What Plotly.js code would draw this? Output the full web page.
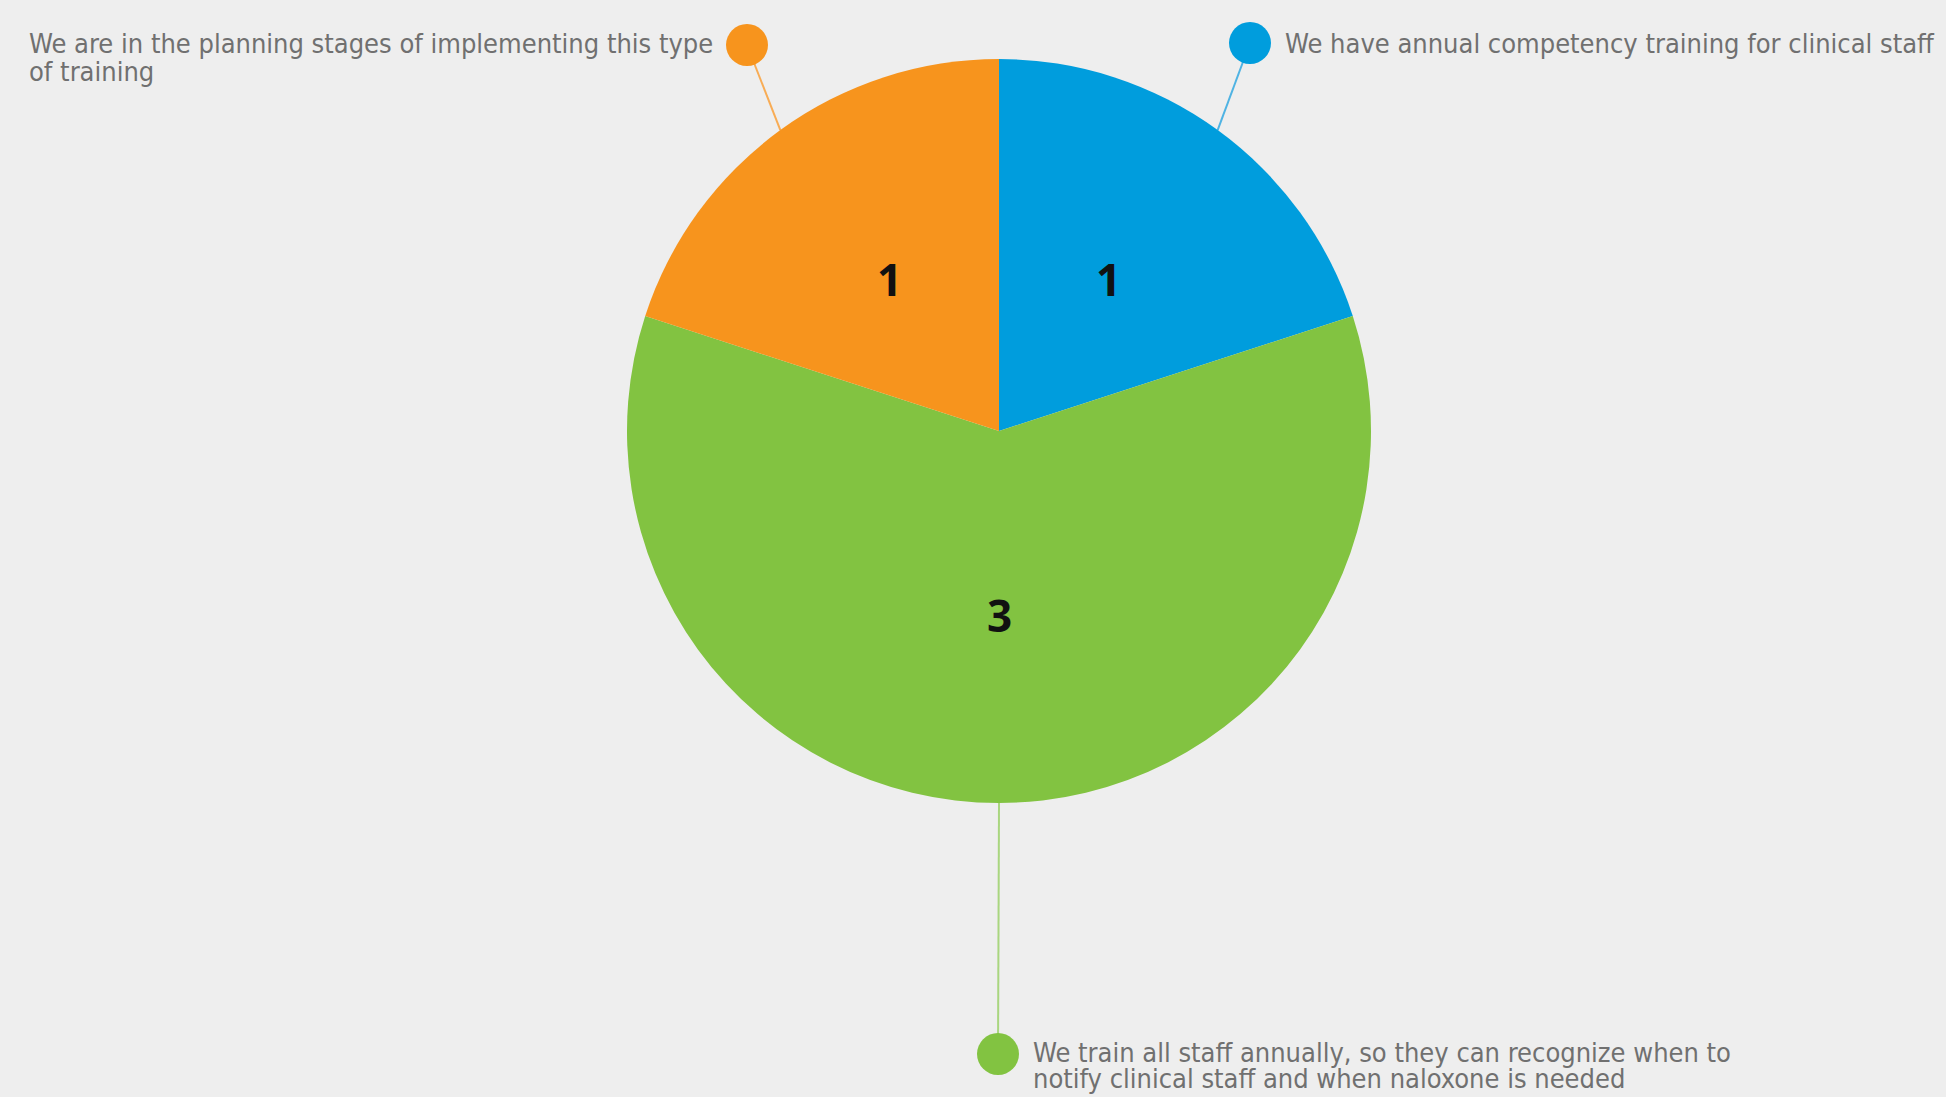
<!DOCTYPE html>
<html>
<head>
<meta charset="utf-8">
<script src="https://cdn.plot.ly/plotly-3.0.1.min.js"></script>
<style>html,body{margin:0;padding:0;background:#eeeeee;}#chart{width:1946px;height:1097px;}</style>
</head>
<body>
<div id="chart"></div>
<script>
// ---- data ----
const categories = [
  "We have annual competency training for clinical staff",
  "We train all staff annually, so they can recognize when to notify clinical staff and when naloxone is needed",
  "We are in the planning stages of implementing this type of training"
];
const labelLines = [
  ["We have annual competency training for clinical staff"],
  ["We train all staff annually, so they can recognize when to", "notify clinical staff and when naloxone is needed"],
  ["We are in the planning stages of implementing this type", "of training"]
];
const values = [1, 3, 1];
const sliceColors = ["#009ddd", "#82c341", "#f7941d"];
const lineColors = ["#4fb3e3", "#a9d67f", "#f8ac55"];

// ---- layout / style ----
const W = 1946, H = 1097;
const cx = 999, cy = 431, R = 372;
const dotPos = [[1250, 43], [998, 1054], [747, 45]];
const labelStart = [[1283, 43], [1031, 1052], [27, 43]];
const lineGap = [0, 26, 28];
const labelFont = {family: "DejaVu Sans Condensed, DejaVu Sans, sans-serif", size: 27, color: "#707070"};

const total = values.reduce((a, b) => a + b, 0);
let acc = 0;
const mids = values.map(v => { const m = (acc + v / 2) / total * 2 * Math.PI; acc += v; return m; });

const traces = [];
const annotations = [];
values.forEach((v, i) => {
  const a = mids[i];
  const rx = cx + R * Math.sin(a), ry = cy - R * Math.cos(a);
  traces.push({
    type: "scatter", mode: "lines", x: [rx, dotPos[i][0]], y: [ry, dotPos[i][1]],
    line: {color: lineColors[i], width: 2}, hoverinfo: "skip", showlegend: false
  });
  traces.push({
    type: "scatter", mode: "markers", x: [dotPos[i][0]], y: [dotPos[i][1]],
    marker: {color: sliceColors[i], size: 42, line: {width: 0}}, hoverinfo: "skip", showlegend: false
  });
  labelLines[i].forEach((txt, k) => {
    annotations.push({
      xref: "x", yref: "y", x: labelStart[i][0], y: labelStart[i][1] + k * lineGap[i],
      text: txt, showarrow: false, xanchor: "left", yanchor: "middle", align: "left", font: labelFont
    });
  });
  annotations.push({
    xref: "x", yref: "y", x: cx + 0.5 * R * Math.sin(a), y: cy - 0.5 * R * Math.cos(a) - 2,
    text: "<b>" + v + "</b>", showarrow: false, xanchor: "center", yanchor: "middle",
    font: {family: "Open Sans, sans-serif", size: 44, color: "#111111"}
  });
});

traces.unshift({
  type: "pie", labels: categories, values: values, sort: false, direction: "clockwise", rotation: 0,
  marker: {colors: sliceColors, line: {width: 0}}, textinfo: "none", hoverinfo: "label+value",
  showlegend: false,
  domain: {x: [(cx - R) / W, (cx + R) / W], y: [1 - (cy + R) / H, 1 - (cy - R) / H]}
});

const layout = {
  width: W, height: H, margin: {l: 0, r: 0, t: 0, b: 0},
  paper_bgcolor: "#eeeeee", plot_bgcolor: "rgba(0,0,0,0)",
  xaxis: {range: [0, W], visible: false, fixedrange: true},
  yaxis: {range: [H, 0], visible: false, fixedrange: true},
  annotations: annotations, showlegend: false
};
Plotly.newPlot("chart", traces, layout, {displayModeBar: false, staticPlot: true});
</script>
</body>
</html>
